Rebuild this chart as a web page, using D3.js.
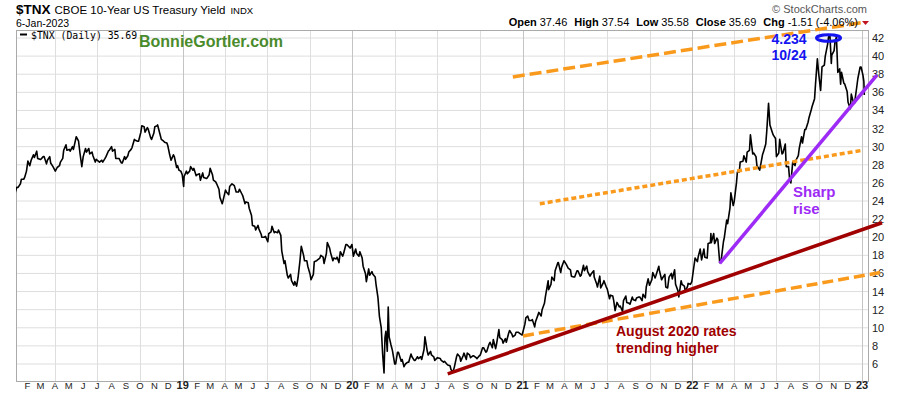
<!DOCTYPE html>
<html lang="en">
<head>
<meta charset="utf-8">
<title>$TNX CBOE 10-Year US Treasury Yield</title>
<script src="https://cdn.jsdelivr.net/npm/d3@7"></script>
<style>
  body { margin: 0; background: #fff; }
  svg { font-family: "Liberation Sans", Arial, sans-serif; display: block; }
</style>
</head>
<body>
<div id="chart"></div>
<script>
var W = 900, H = 396;

// closes ($TNX = 10y yield x 10)
var closes2018 = [["2018-01-02",24.6],["2018-01-05",24.8],["2018-01-09",25.5],["2018-01-12",25.5],["2018-01-17",25.9],["2018-01-19",26.4],["2018-01-24",26.4],["2018-01-26",26.6],["2018-01-30",27.3],["2018-02-02",28.4],["2018-02-06",27.9],["2018-02-09",28.5],["2018-02-14",29.1],["2018-02-16",28.8],["2018-02-21",29.5],["2018-02-23",28.7],["2018-02-28",28.6],["2018-03-02",28.6],["2018-03-07",28.9],["2018-03-09",28.9],["2018-03-14",28.1],["2018-03-16",28.5],["2018-03-21",28.9],["2018-03-23",28.2],["2018-03-28",27.8],["2018-04-02",27.3],["2018-04-06",27.7],["2018-04-11",27.9],["2018-04-13",28.3],["2018-04-18",28.7],["2018-04-20",29.6],["2018-04-25",30.2],["2018-04-27",29.6],["2018-05-02",29.7],["2018-05-04",29.5],["2018-05-09",30.0],["2018-05-11",29.7],["2018-05-17",31.1],["2018-05-22",30.6],["2018-05-25",29.3],["2018-05-29",27.8],["2018-06-01",28.9],["2018-06-06",29.8],["2018-06-08",29.4],["2018-06-13",29.8],["2018-06-15",29.2],["2018-06-20",29.4],["2018-06-22",29.0],["2018-06-27",28.3],["2018-06-29",28.6],["2018-07-06",28.3],["2018-07-11",28.5],["2018-07-13",28.3],["2018-07-18",28.7],["2018-07-20",28.9],["2018-07-25",29.5],["2018-07-27",29.6],["2018-08-01",30.0],["2018-08-03",29.5],["2018-08-08",29.7],["2018-08-10",28.7],["2018-08-15",28.7],["2018-08-17",28.7],["2018-08-22",28.2],["2018-08-24",28.2],["2018-08-29",28.9],["2018-08-31",28.6],["2018-09-05",29.0],["2018-09-07",29.4],["2018-09-12",29.7],["2018-09-14",29.9],["2018-09-19",30.8],["2018-09-21",30.7],["2018-09-26",30.6],["2018-09-28",30.6],["2018-10-03",31.6],["2018-10-05",32.3],["2018-10-10",32.2],["2018-10-12",31.6],["2018-10-17",32.1],["2018-10-19",31.9],["2018-10-24",31.0],["2018-10-26",30.8],["2018-10-31",31.5],["2018-11-02",32.2],["2018-11-07",32.3],["2018-11-08",32.4],["2018-11-14",31.2],["2018-11-16",30.8],["2018-11-21",30.6],["2018-11-23",30.5],["2018-11-28",30.4],["2018-11-30",30.1],["2018-12-04",29.1],["2018-12-07",28.5],["2018-12-12",29.1],["2018-12-14",28.9],["2018-12-19",27.7],["2018-12-21",27.9],["2018-12-24",27.4],["2018-12-28",27.3],["2018-12-31",26.9]];

var closes2019 = [["2019-01-03",25.6],["2019-01-04",26.7],["2019-01-09",27.3],["2019-01-11",27.0],["2019-01-16",27.3],["2019-01-18",27.8],["2019-01-23",27.4],["2019-01-25",27.6],["2019-01-30",26.8],["2019-02-01",26.9],["2019-02-06",27.0],["2019-02-08",26.3],["2019-02-13",27.1],["2019-02-15",26.6],["2019-02-20",26.5],["2019-02-22",26.5],["2019-02-27",26.9],["2019-03-01",27.6],["2019-03-06",26.9],["2019-03-08",26.3],["2019-03-13",26.1],["2019-03-15",25.9],["2019-03-20",25.3],["2019-03-22",24.4],["2019-03-27",23.7],["2019-03-29",24.1],["2019-04-03",25.2],["2019-04-05",25.0],["2019-04-10",24.7],["2019-04-12",25.6],["2019-04-17",25.9],["2019-04-22",25.7],["2019-04-26",25.0],["2019-05-01",25.0],["2019-05-03",25.3],["2019-05-08",24.8],["2019-05-10",24.6],["2019-05-15",23.7],["2019-05-17",23.9],["2019-05-22",23.8],["2019-05-24",23.2],["2019-05-29",22.4],["2019-05-31",21.3],["2019-06-05",21.2],["2019-06-07",20.8],["2019-06-12",21.3],["2019-06-14",20.9],["2019-06-19",20.3],["2019-06-20",20.0],["2019-06-25",20.0],["2019-06-28",20.1],["2019-07-03",19.5],["2019-07-05",20.4],["2019-07-10",20.6],["2019-07-12",21.2],["2019-07-17",20.5],["2019-07-19",20.6],["2019-07-24",20.5],["2019-07-26",20.8],["2019-07-31",20.2],["2019-08-02",18.5],["2019-08-07",17.1],["2019-08-09",17.4],["2019-08-14",15.8],["2019-08-16",15.5],["2019-08-21",15.9],["2019-08-23",15.2],["2019-08-28",14.7],["2019-08-30",15.1],["2019-09-03",14.6],["2019-09-06",15.5],["2019-09-10",17.3],["2019-09-13",19.0],["2019-09-18",18.0],["2019-09-20",17.4],["2019-09-25",17.4],["2019-09-27",16.8],["2019-10-02",15.9],["2019-10-04",15.3],["2019-10-09",15.9],["2019-10-11",17.3],["2019-10-16",17.4],["2019-10-18",17.5],["2019-10-23",17.7],["2019-10-25",18.0],["2019-10-30",17.8],["2019-11-01",17.1],["2019-11-06",18.2],["2019-11-08",19.4],["2019-11-13",18.8],["2019-11-15",18.3],["2019-11-20",17.4],["2019-11-22",17.7],["2019-11-27",17.6],["2019-11-29",17.8],["2019-12-03",17.2],["2019-12-06",18.4],["2019-12-11",17.9],["2019-12-13",18.2],["2019-12-18",19.2],["2019-12-20",19.2],["2019-12-27",18.8],["2019-12-31",19.2]];

var closes2020 = [["2020-01-03",17.9],["2020-01-08",18.7],["2020-01-10",18.2],["2020-01-15",17.9],["2020-01-17",18.4],["2020-01-22",17.7],["2020-01-24",16.8],["2020-01-29",16.0],["2020-01-31",15.1],["2020-02-05",16.5],["2020-02-07",15.8],["2020-02-12",16.2],["2020-02-14",15.9],["2020-02-19",15.6],["2020-02-21",14.7],["2020-02-25",13.3],["2020-02-28",11.3],["2020-03-03",10.0],["2020-03-06",7.1],["2020-03-09",5.0],["2020-03-11",8.9],["2020-03-13",9.6],["2020-03-16",7.4],["2020-03-18",12.3],["2020-03-20",9.0],["2020-03-24",8.1],["2020-03-27",7.5],["2020-04-01",6.0],["2020-04-03",6.0],["2020-04-07",7.3],["2020-04-09",7.3],["2020-04-15",6.3],["2020-04-17",6.5],["2020-04-21",5.7],["2020-04-24",6.0],["2020-04-29",6.2],["2020-05-01",6.2],["2020-05-06",7.1],["2020-05-08",6.8],["2020-05-13",6.4],["2020-05-15",6.4],["2020-05-20",6.8],["2020-05-22",6.6],["2020-05-27",6.8],["2020-05-29",6.5],["2020-06-03",7.6],["2020-06-05",9.0],["2020-06-10",7.4],["2020-06-12",7.0],["2020-06-17",7.4],["2020-06-19",7.0],["2020-06-24",6.8],["2020-06-26",6.4],["2020-07-02",6.7],["2020-07-08",6.6],["2020-07-10",6.4],["2020-07-15",6.2],["2020-07-17",6.3],["2020-07-22",6.0],["2020-07-24",5.9],["2020-07-29",5.8],["2020-07-31",5.4],["2020-08-04",5.1],["2020-08-07",5.6],["2020-08-12",6.8],["2020-08-14",7.1],["2020-08-19",6.8],["2020-08-21",6.3],["2020-08-26",6.9],["2020-08-28",7.2],["2020-09-02",6.5],["2020-09-04",7.2],["2020-09-09",7.0],["2020-09-11",6.7],["2020-09-16",6.9],["2020-09-18",6.9],["2020-09-23",6.7],["2020-09-25",6.6],["2020-09-30",6.9],["2020-10-02",7.0],["2020-10-07",7.8],["2020-10-09",7.8],["2020-10-14",7.3],["2020-10-16",7.4],["2020-10-21",8.2],["2020-10-23",8.4],["2020-10-28",7.8],["2020-10-30",8.7],["2020-11-04",7.7],["2020-11-06",8.2],["2020-11-11",9.8],["2020-11-13",8.9],["2020-11-18",8.7],["2020-11-20",8.3],["2020-11-25",8.8],["2020-11-27",8.4],["2020-12-02",9.4],["2020-12-04",9.7],["2020-12-09",9.3],["2020-12-11",9.0],["2020-12-16",9.2],["2020-12-18",9.5],["2020-12-23",9.5],["2020-12-28",9.3],["2020-12-31",9.2]];

var closes2021 = [["2021-01-06",10.4],["2021-01-08",11.1],["2021-01-12",11.3],["2021-01-15",10.8],["2021-01-20",10.8],["2021-01-22",10.9],["2021-01-27",10.1],["2021-01-29",10.7],["2021-02-03",11.4],["2021-02-05",11.7],["2021-02-10",11.3],["2021-02-12",12.0],["2021-02-17",12.7],["2021-02-19",13.4],["2021-02-25",15.2],["2021-02-26",14.2],["2021-03-03",14.8],["2021-03-05",15.6],["2021-03-10",15.2],["2021-03-12",16.3],["2021-03-18",17.2],["2021-03-19",17.2],["2021-03-24",16.1],["2021-03-26",16.7],["2021-03-31",17.4],["2021-04-05",17.0],["2021-04-09",16.6],["2021-04-14",16.4],["2021-04-16",15.7],["2021-04-21",15.6],["2021-04-23",15.6],["2021-04-28",16.3],["2021-04-30",16.3],["2021-05-05",15.7],["2021-05-07",15.8],["2021-05-12",16.9],["2021-05-14",16.3],["2021-05-19",16.8],["2021-05-21",16.2],["2021-05-26",15.7],["2021-05-28",15.9],["2021-06-03",16.3],["2021-06-04",15.6],["2021-06-09",14.9],["2021-06-11",14.5],["2021-06-16",15.7],["2021-06-18",14.4],["2021-06-23",14.9],["2021-06-25",15.2],["2021-06-30",14.5],["2021-07-02",14.3],["2021-07-07",13.2],["2021-07-09",13.6],["2021-07-14",13.5],["2021-07-16",13.0],["2021-07-19",11.9],["2021-07-23",12.8],["2021-07-28",12.3],["2021-07-30",12.4],["2021-08-04",11.8],["2021-08-06",13.0],["2021-08-11",13.5],["2021-08-13",12.8],["2021-08-18",12.7],["2021-08-20",12.6],["2021-08-25",13.4],["2021-08-27",13.1],["2021-09-01",13.0],["2021-09-03",13.3],["2021-09-08",13.4],["2021-09-10",13.4],["2021-09-15",13.0],["2021-09-17",13.7],["2021-09-22",13.3],["2021-09-24",14.5],["2021-09-28",15.4],["2021-10-01",14.7],["2021-10-06",15.3],["2021-10-08",16.1],["2021-10-13",15.5],["2021-10-15",15.8],["2021-10-21",16.8],["2021-10-22",16.4],["2021-10-27",15.3],["2021-10-29",15.5],["2021-11-03",15.9],["2021-11-05",14.5],["2021-11-09",14.4],["2021-11-12",15.6],["2021-11-17",16.0],["2021-11-19",15.4],["2021-11-24",16.4],["2021-11-26",14.8],["2021-12-01",14.1],["2021-12-03",13.4],["2021-12-08",15.2],["2021-12-10",14.8],["2021-12-15",14.6],["2021-12-17",14.0],["2021-12-22",14.6],["2021-12-23",14.9],["2021-12-28",14.8],["2021-12-31",15.1]];

var closes2022 = [["2022-01-04",16.6],["2022-01-07",17.7],["2022-01-12",17.3],["2022-01-14",17.9],["2022-01-18",18.7],["2022-01-21",17.5],["2022-01-26",18.7],["2022-01-28",17.8],["2022-02-02",17.7],["2022-02-04",19.3],["2022-02-09",19.4],["2022-02-10",20.4],["2022-02-11",19.4],["2022-02-16",20.4],["2022-02-18",19.3],["2022-02-23",19.9],["2022-02-25",19.7],["2022-03-01",17.2],["2022-03-04",17.4],["2022-03-09",19.5],["2022-03-11",20.0],["2022-03-16",21.9],["2022-03-18",21.5],["2022-03-23",23.2],["2022-03-25",24.9],["2022-03-30",23.5],["2022-04-01",23.9],["2022-04-06",26.0],["2022-04-08",27.2],["2022-04-12",27.2],["2022-04-14",28.3],["2022-04-20",28.4],["2022-04-22",29.0],["2022-04-27",28.3],["2022-04-29",29.4],["2022-05-04",29.6],["2022-05-06",31.3],["2022-05-11",29.2],["2022-05-13",29.3],["2022-05-18",28.9],["2022-05-20",27.9],["2022-05-25",27.5],["2022-05-26",27.4],["2022-06-01",29.1],["2022-06-03",29.4],["2022-06-08",30.3],["2022-06-10",31.6],["2022-06-14",34.8],["2022-06-17",32.4],["2022-06-22",31.6],["2022-06-24",31.3],["2022-06-29",30.9],["2022-07-01",28.9],["2022-07-06",29.3],["2022-07-08",30.8],["2022-07-13",29.2],["2022-07-15",29.3],["2022-07-20",30.3],["2022-07-22",27.8],["2022-07-27",27.8],["2022-07-29",26.6],["2022-08-01",26.0],["2022-08-05",28.3],["2022-08-10",27.9],["2022-08-12",28.5],["2022-08-17",29.0],["2022-08-19",29.8],["2022-08-24",31.1],["2022-08-26",30.4],["2022-08-31",31.9],["2022-09-02",31.9],["2022-09-07",32.7],["2022-09-09",33.2],["2022-09-14",34.1],["2022-09-16",34.5],["2022-09-21",35.3],["2022-09-23",36.9],["2022-09-27",39.7],["2022-09-30",38.0],["2022-10-04",36.2],["2022-10-07",38.8],["2022-10-12",39.0],["2022-10-14",40.0],["2022-10-19",41.3],["2022-10-21",42.1],["2022-10-24",42.3],["2022-10-27",39.2],["2022-10-28",40.1],["2022-11-02",40.6],["2022-11-04",41.6],["2022-11-07",42.1],["2022-11-10",38.2],["2022-11-14",38.6],["2022-11-16",36.9],["2022-11-18",38.2],["2022-11-23",37.0],["2022-11-25",36.9],["2022-11-30",36.1],["2022-12-02",34.9],["2022-12-07",34.2],["2022-12-09",35.8],["2022-12-13",35.0],["2022-12-16",34.8],["2022-12-21",36.7],["2022-12-23",37.5],["2022-12-28",38.8],["2022-12-30",38.8],["2023-01-03",37.9],["2023-01-05",37.2],["2023-01-06",35.7]];

// hand drawn trend lines (end points as date / value)
var upperChannel = [["2020-12-11", 37.7], ["2023-01-01", 43.7]];
var midChannel = [["2021-02-07", 23.7], ["2023-01-02", 29.6]];
var lowerChannel = [["2021-01-02", 9.1], ["2023-02-09", 16.1]];
var august2020Trend = [["2020-07-24", 4.9], ["2023-02-13", 21.6]];
var sharpRiseTrend = [["2022-03-01", 17.1], ["2023-02-02", 37.9]];
var peakMark = ["2022-10-21", 42.0];

var yTicks = d3.range(6, 43, 2);
var monthLetters = ["J", "F", "M", "A", "M", "J", "J", "A", "S", "O", "N", "D"];
var quote = [["Open", "37.46"], ["High", "37.54"], ["Low", "35.58"], ["Close", "35.69"], ["Chg", "-1.51 (-4.06%)"]];

var parse = d3.timeParse("%Y-%m-%d");
var series = [].concat(closes2018, closes2019, closes2020, closes2021, closes2022)
  .map(function(d) { return { date: parse(d[0]), v: d[1] }; });
var toPts = function(arr) { return arr.map(function(d) { return { date: parse(d[0]), v: d[1] }; }); };

var plot = { left: 16, right: 868, top: 30, bottom: 381 };

var x = d3.scaleTime()
  .domain([parse("2018-01-01"), parse("2023-01-01")])
  .range([13, 862]);
var y = d3.scaleLinear().domain([6, 42]).range([364, 38]);

var svg = d3.select("#chart").append("svg")
  .attr("width", W).attr("height", H);

svg.append("rect").attr("width", W).attr("height", H).attr("fill", "#fff");

// grid
var grid = svg.append("g");
grid.selectAll("line.h").data(yTicks).enter().append("line")
  .attr("x1", plot.left).attr("x2", plot.right)
  .attr("y1", function(d) { return y(d); }).attr("y2", function(d) { return y(d); })
  .attr("stroke", "#dedede").attr("stroke-width", 1);

var quarters = d3.timeMonth.every(3).range(parse("2018-01-01"), parse("2023-01-02"))
  .filter(function(d) { return x(d) > plot.left + 1 && x(d) < plot.right - 1; });
grid.selectAll("line.v").data(quarters).enter().append("line")
  .attr("x1", function(d) { return Math.round(x(d)) + 0.5; })
  .attr("x2", function(d) { return Math.round(x(d)) + 0.5; })
  .attr("y1", plot.top).attr("y2", plot.bottom)
  .attr("stroke", function(d) { return d.getMonth() === 0 ? "#c4c4c4" : "#dedede"; })
  .attr("stroke-width", 1);

// frame
svg.append("rect")
  .attr("x", plot.left + 0.5).attr("y", plot.top + 0.5)
  .attr("width", plot.right - plot.left).attr("height", plot.bottom - plot.top)
  .attr("fill", "none").attr("stroke", "#aaa");

// right axis labels
svg.append("g").selectAll("text").data(yTicks).enter().append("text")
  .attr("x", 872).attr("y", function(d) { return y(d) + 4; })
  .attr("font-size", 11).attr("fill", "#222")
  .text(function(d) { return d; });

// month / year labels
var months = d3.timeMonth.range(parse("2018-02-01"), parse("2023-01-02"));
svg.append("g").selectAll("text").data(months).enter().append("text")
  .attr("x", function(d) { return x(d); })
  .attr("y", 389)
  .attr("text-anchor", "middle")
  .attr("font-size", function(d) { return d.getMonth() === 0 ? 11 : 9.5; })
  .attr("font-weight", function(d) { return d.getMonth() === 0 ? "bold" : "normal"; })
  .attr("fill", "#222")
  .text(function(d) {
    return d.getMonth() === 0 ? d3.timeFormat("%y")(d) : monthLetters[d.getMonth()];
  });

// price line
svg.append("clipPath").attr("id", "plotClip").append("rect")
  .attr("x", plot.left).attr("y", plot.top)
  .attr("width", plot.right - plot.left).attr("height", plot.bottom - plot.top);

var line = d3.line()
  .x(function(d) { return x(d.date); })
  .y(function(d) { return y(d.v); });

svg.append("path")
  .datum(series)
  .attr("clip-path", "url(#plotClip)")
  .attr("d", line)
  .attr("fill", "none")
  .attr("stroke", "#000")
  .attr("stroke-width", 1.6)
  .attr("stroke-linejoin", "round");

// trend lines
var drawTrend = function(pts, color, width, dash) {
  svg.append("path")
    .datum(toPts(pts))
    .attr("d", line)
    .attr("fill", "none")
    .attr("stroke", color)
    .attr("stroke-width", width)
    .attr("stroke-dasharray", dash || null);
};
drawTrend(upperChannel, "#f99a1c", 3.5, "12,5");
drawTrend(midChannel, "#f99a1c", 3.5, "5,3");
drawTrend(lowerChannel, "#f99a1c", 3.5, "11,5");
drawTrend(august2020Trend, "#a00000", 3.5);
drawTrend(sharpRiseTrend, "#9d2bf5", 3.5);

// peak marker
svg.append("ellipse")
  .attr("cx", x(parse(peakMark[0]))).attr("cy", y(peakMark[1]))
  .attr("rx", 12).attr("ry", 3.2)
  .attr("fill", "none").attr("stroke", "#1414f0").attr("stroke-width", 3);

// annotations
var note = function(tx, ty, str, color, size, anchor) {
  svg.append("text").attr("x", tx).attr("y", ty)
    .attr("font-size", size).attr("font-weight", "bold")
    .attr("fill", color).attr("text-anchor", anchor || "start")
    .text(str);
};
note(789, 43.5, "4.234", "#1414f0", 14, "middle");
note(789, 59.5, "10/24", "#1414f0", 14, "middle");
note(793, 197, "Sharp", "#9d2bf5", 15);
note(793, 214, "rise", "#9d2bf5", 15);
note(616, 335.5, "August 2020 rates", "#a00000", 14);
note(616, 353, "trending higher", "#a00000", 14);

// header
var head = svg.append("text").attr("x", 16).attr("y", 14).attr("fill", "#000");
head.append("tspan").attr("font-size", 13.5).attr("font-weight", "bold").text("$TNX");
head.append("tspan").attr("font-size", 11.5).attr("dx", 4).text("CBOE 10-Year US Treasury Yield");
head.append("tspan").attr("font-size", 9.5).attr("dx", 5).text("INDX");

svg.append("text").attr("x", 16).attr("y", 26.5)
  .attr("font-size", 10.5).attr("fill", "#000").text("6-Jan-2023");

svg.append("text").attr("x", 867).attr("y", 13)
  .attr("text-anchor", "end").attr("font-size", 11).attr("fill", "#555")
  .text("\u00a9 StockCharts.com");

var q = svg.append("text").attr("x", 858).attr("y", 26)
  .attr("text-anchor", "end").attr("font-size", 11).attr("fill", "#000");
quote.forEach(function(p, i) {
  q.append("tspan").attr("font-weight", "bold").attr("dx", i ? 7 : 0).text(p[0]);
  q.append("tspan").attr("dx", 3).text(p[1]);
});

svg.append("path")
  .attr("d", "M862,21L869,21L865.5,25Z")
  .attr("fill", "#c0141e");

// legend
svg.append("line")
  .attr("x1", 20).attr("x2", 27).attr("y1", 34.5).attr("y2", 34.5)
  .attr("stroke", "#000").attr("stroke-width", 2);
svg.append("text").attr("x", 31).attr("y", 38.5)
  .attr("font-family", "DejaVu Sans Mono, monospace")
  .attr("font-size", 9.8).attr("fill", "#000")
  .text("$TNX (Daily) 35.69");

svg.append("text").attr("x", 139).attr("y", 46.5)
  .attr("font-size", 16).attr("font-weight", "bold").attr("fill", "#4a8b2c")
  .text("BonnieGortler.com");
</script>
</body>
</html>
